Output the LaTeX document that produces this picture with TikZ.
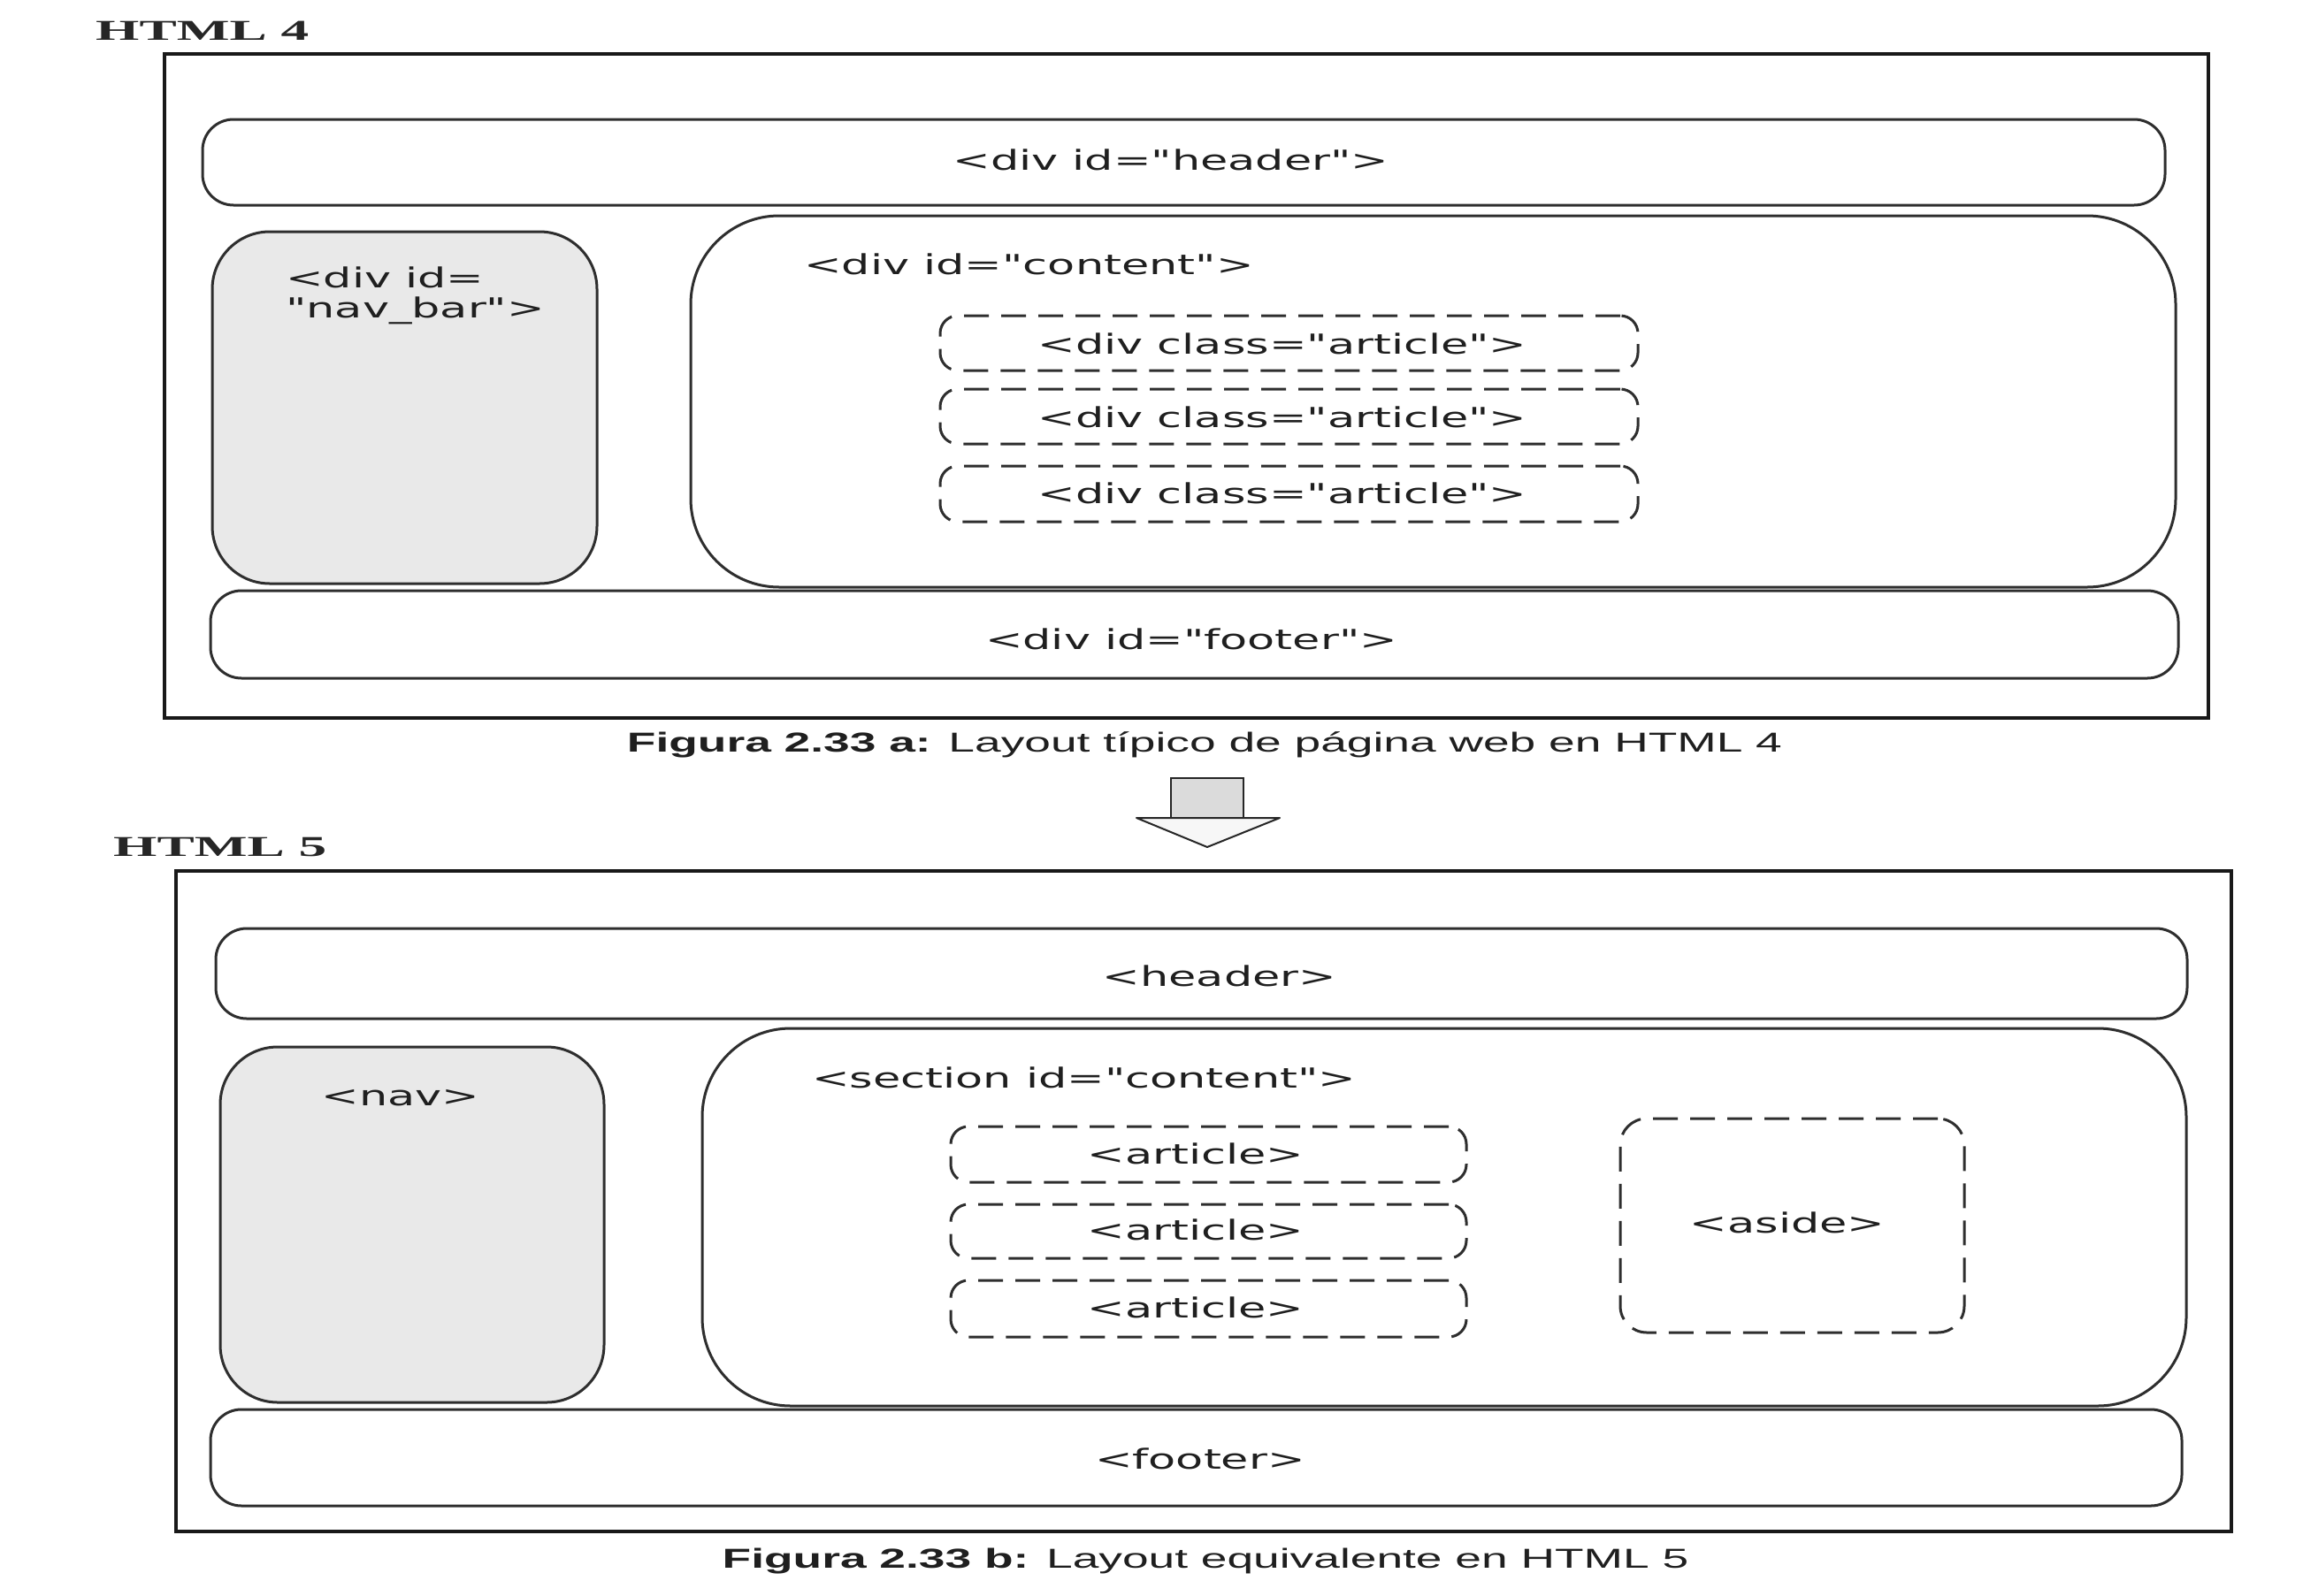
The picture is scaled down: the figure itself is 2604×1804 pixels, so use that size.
\documentclass[tikz,border=0pt]{standalone}
\usepackage{fontspec}
\usepackage{graphicx}
\newfontfamily\lblfamily{DejaVu Sans}
\newfontfamily\capfamily{Liberation Sans}
\newfontfamily\ttlfamily{Liberation Serif}
\newcommand\dq{\XeTeXglyph\XeTeXcharglyph"22\relax}
\newcommand\sxl[1]{\scalebox{1.63}[1]{#1}}
\newcommand\sxc[1]{\scalebox{1.72}[1]{#1}}
\newcommand\sxt[1]{\scalebox{1.95}[1]{#1}}
\newcommand\lblfont{\lblfamily\fontsize{31.2}{34}\selectfont}
\newcommand\capfont{\capfamily\fontsize{31}{36}\selectfont}
\newcommand\ttlfont{\ttlfamily\bfseries\fontsize{32.5}{36}\selectfont}
\begin{document}
\begin{tikzpicture}[x=1pt,y=-1pt,
  outerbox/.style={draw=black!90, line width=4.5pt, inner sep=0pt},
  blk/.style={draw=black!82, line width=3pt, rounded corners=#1, inner sep=0pt},
  dsh/.style={draw=black!82, line width=3pt, dash pattern=on 28pt off 14pt, rounded corners=#1, inner sep=0pt},
  navfill/.style={fill=gray!17},
  lbl/.style={font=\lblfont, text=black!88, inner sep=0pt},
  captext/.style={font=\capfont, text=black!88, inner sep=0pt},
  ttl/.style={font=\ttlfont, text=black!85, inner sep=0pt, anchor=west}
]
\useasboundingbox (0,0) rectangle (2604,1804);
\fill[white] (0,0) rectangle (2604,1804);

% ---------------- HTML 4 ----------------
\node[ttl] (t4) at (108,35) {\sxt{HTML 4}};
\node[outerbox, minimum width=2311pt, minimum height=751pt] (out4) at (1341.5,436.5) {};
\node[blk=35pt, minimum width=2219pt, minimum height=97pt] (hdr4) at (1338.5,183.5) {};
\node[lbl] (hdr4t) at (1324,181) {\sxl{<div id=\dq header\dq >}};
\node[blk=65pt, navfill, minimum width=435pt, minimum height=398pt] (nav4) at (457.5,461) {};
\node[lbl, anchor=north west, align=left] (nav4t) at (323,302) {\sxl{<div id=}\\\sxl{\dq nav\_bar\dq >}};
\node[blk=100pt, minimum width=1679pt, minimum height=420pt] (con4) at (1620.5,454) {};
\node[lbl, anchor=west] (con4t) at (909,299) {\sxl{<div id=\dq content\dq >}};
\node[dsh=20pt, minimum width=789pt, minimum height=62pt] (art4a) at (1457.5,388) {};
\node[dsh=20pt, minimum width=789pt, minimum height=62pt] (art4b) at (1457.5,471) {};
\node[dsh=20pt, minimum width=789pt, minimum height=63pt] (art4c) at (1457.5,558.5) {};
\node[lbl] (art4at) at (1450,389) {\sxl{<div class=\dq article\dq >}};
\node[lbl] (art4bt) at (1450,472) {\sxl{<div class=\dq article\dq >}};
\node[lbl] (art4ct) at (1450,558) {\sxl{<div class=\dq article\dq >}};
\node[blk=35pt, minimum width=2225pt, minimum height=99pt] (ftr4) at (1350.5,717.5) {};
\node[lbl] (ftr4t) at (1347,723) {\sxl{<div id=\dq footer\dq >}};
\node[captext] (cap4) at (1362,842) {\sxc{\textbf{Figura 2.33 a:} Layout típico de página web en HTML 4}};

% ---------------- arrow ----------------
\filldraw[fill=gray!28, draw=black!85, line width=2.5pt] (1324,880) rectangle (1406,925);
\filldraw[fill=gray!6, draw=black!85, line width=2pt, line join=round] (1285,925) -- (1447,925) -- (1365,958) -- cycle;

% ---------------- HTML 5 ----------------
\node[ttl] (t5) at (128,958) {\sxt{HTML 5}};
\node[outerbox, minimum width=2324pt, minimum height=747pt] (out5) at (1361,1358.5) {};
\node[blk=35pt, minimum width=2229pt, minimum height=102pt] (hdr5) at (1358.5,1101) {};
\node[lbl] (hdr5t) at (1379,1104) {\sxl{<header>}};
\node[blk=65pt, navfill, minimum width=434pt, minimum height=402pt] (nav5) at (466,1385) {};
\node[lbl] (nav5t) at (453,1242) {\sxl{<nav>}};
\node[blk=100pt, minimum width=1678pt, minimum height=427pt] (sec5) at (1633,1376.5) {};
\node[lbl, anchor=west] (sec5t) at (918,1219) {\sxl{<section id=\dq content\dq >}};
\node[dsh=20pt, minimum width=583pt, minimum height=63pt] (art5a) at (1366.5,1305.5) {};
\node[dsh=20pt, minimum width=583pt, minimum height=61pt] (art5b) at (1366.5,1392.5) {};
\node[dsh=20pt, minimum width=583pt, minimum height=64pt] (art5c) at (1366.5,1480) {};
\node[lbl] (art5at) at (1352,1305) {\sxl{<article>}};
\node[lbl] (art5bt) at (1352,1391) {\sxl{<article>}};
\node[lbl] (art5ct) at (1352,1479) {\sxl{<article>}};
\node[dsh=30pt, minimum width=389pt, minimum height=242pt] (aside) at (2026.5,1386) {};
\node[lbl] (asidet) at (2021,1383) {\sxl{<aside>}};
\node[blk=35pt, minimum width=2229pt, minimum height=109pt] (ftr5) at (1352.5,1648.5) {};
\node[lbl] (ftr5t) at (1357,1650) {\sxl{<footer>}};
\node[captext] (cap5) at (1363,1766) {\sxc{\textbf{Figura 2.33 b:} Layout equivalente en HTML 5}};
\end{tikzpicture}
\end{document}
